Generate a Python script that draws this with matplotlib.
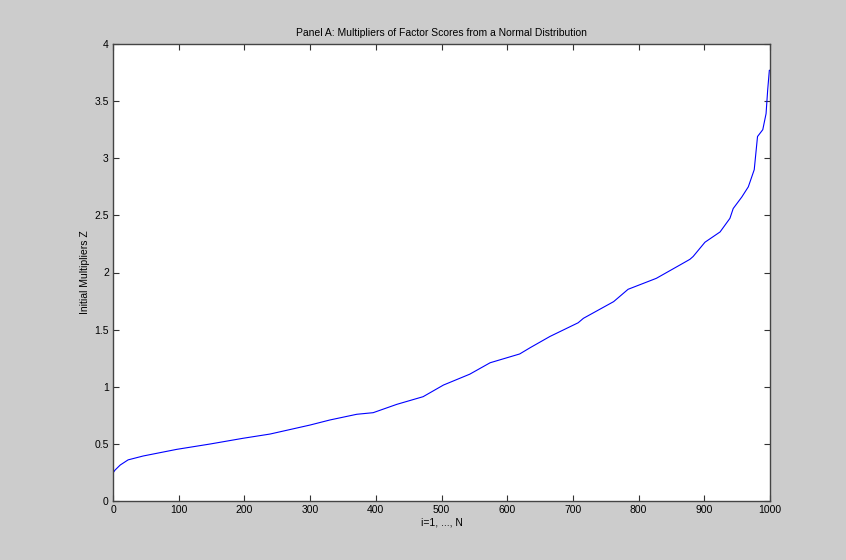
import matplotlib
matplotlib.use("Agg")
import matplotlib.pyplot as plt

# Data (sorted multipliers)
idx = [0, 3, 11, 23, 46, 97, 148, 198, 239, 300, 330, 371, 396, 432, 472, 503,
       543, 574, 619, 635, 665, 708, 716, 762, 784, 827, 863, 878, 883, 901,
       924, 939, 944, 957, 967, 976, 981, 989, 994, 996.5, 999, 1000]
vals = [0.245, 0.27, 0.315, 0.36, 0.394, 0.452, 0.499, 0.549, 0.586, 0.665, 0.709,
        0.759, 0.773, 0.846, 0.913, 1.015, 1.11, 1.21, 1.287, 1.342, 1.44, 1.56,
        1.599, 1.745, 1.853, 1.949, 2.066, 2.115, 2.14, 2.265, 2.355, 2.474, 2.56,
        2.66, 2.75, 2.90, 3.19, 3.25, 3.39, 3.60, 3.77, 3.77]

xticks = [0, 100, 200, 300, 400, 500, 600, 700, 800, 900, 1000]
yticks = [0, 0.5, 1, 1.5, 2, 2.5, 3, 3.5, 4]
ytick_labels = ["0", "0.5", "1", "1.5", "2", "2.5", "3", "3.5", "4"]

plt.rcParams['font.family'] = ['Liberation Sans', 'DejaVu Sans']

fig = plt.figure(figsize=(8.46, 5.60), dpi=100, facecolor="#cccccc")
ax = fig.add_axes([113/846, 59/560, 657/846, 457/560])
ax.set_facecolor("white")
ax.plot(idx, vals, color="#0000ff", lw=0.8)

ax.set_xlim(0, 1000)
ax.set_ylim(0, 4)
ax.set_xticks(xticks)
ax.set_yticks(yticks)
ax.set_yticklabels(ytick_labels)
ax.tick_params(direction="in", top=True, right=True, length=4, width=0.8,
               labelsize=7.5, colors="#333333", labelcolor="black", pad=3)
for s in ax.spines.values():
    s.set_color("#444444")
    s.set_linewidth(1.0)

ax.set_title("Panel A: Multipliers of Factor Scores from a Normal Distribution",
             fontsize=7.5, pad=6)
ax.set_xlabel("i=1, ..., N", fontsize=7.5, labelpad=2)
ax.set_ylabel("Initial Multipliers Z", fontsize=7.5, labelpad=3)

fig.savefig("out.png", dpi=100, facecolor=fig.get_facecolor())
